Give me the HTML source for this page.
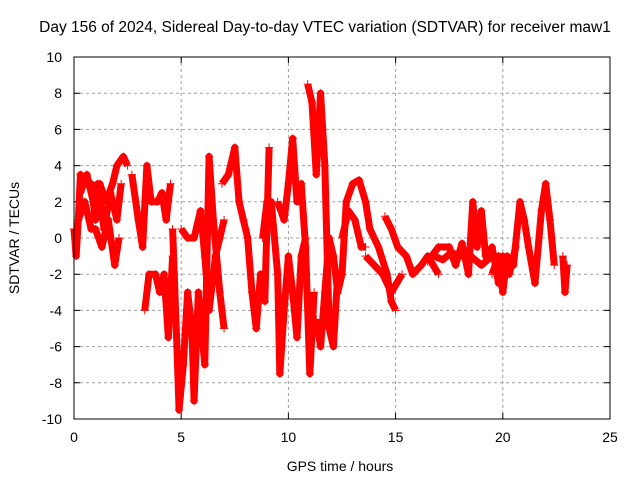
<!DOCTYPE html>
<html><head><meta charset="utf-8"><style>
body{margin:0;background:#fff}
svg{display:block;font-family:"Liberation Sans",sans-serif}
</style></head><body>
<svg id="chart" width="640" height="480">
<text x="325" y="32" font-size="15.5" text-anchor="middle">Day 156 of 2024, Sidereal Day-to-day VTEC variation (SDTVAR) for receiver maw1</text>
<text x="340" y="471" font-size="14" text-anchor="middle">GPS time / hours</text>
<text transform="translate(19,238) rotate(-90)" font-size="14" text-anchor="middle">SDTVAR / TECUs</text>
<g id="grid"></g><g id="marks"></g>
<rect x="74" y="57" width="536" height="362" fill="none" stroke="#000" stroke-width="1"/>
</svg>
<script>
const xTicks=[0,5,10,15,20,25];
const yTicks=[-10,-8,-6,-4,-2,0,2,4,6,8,10];
const trackA=[[0,0.5],[0.1,-1],[0.2,1],[0.3,3.5],[0.5,3],[0.8,3],[1.0,1],[1.2,3],[1.5,2],[1.8,3],[2.0,4],[2.3,4.5],[2.5,4]];
const trackB=[[0.2,1],[0.5,2],[0.8,0.5],[1.0,0.5],[1.3,-0.5],[1.6,1],[1.9,-1.5],[2.1,0]];
const trackC=[[2.7,3.5],[3.0,1],[3.2,-0.5],[3.4,4],[3.6,2],[3.9,2],[4.1,2.5],[4.3,1],[4.5,3]];
const trackD=[[3.3,-4],[3.5,-2],[3.8,-2],[4.0,-3],[4.2,-2],[4.4,-5.5],[4.6,-1]];
const trackE=[[4.6,0.5],[4.8,-6],[4.9,-9.5],[5.1,-7],[5.3,-3],[5.5,-5],[5.6,-9],[5.8,-3],[6.1,-7],[6.3,4.5],[6.5,1],[6.8,-3],[7.0,-5]];
const trackF=[[5.0,0.5],[5.3,0],[5.6,0],[5.9,1.5],[6.1,-1],[6.3,-4],[6.6,-1],[6.8,0],[7.0,1]];
const trackG=[[6.9,3],[7.2,3.5],[7.5,5],[7.7,2],[7.9,1],[8.1,0],[8.3,-3],[8.5,-5],[8.7,-2],[8.9,-3.5],[9.1,5]];
const trackH=[[8.8,0],[9.0,2],[9.2,2],[9.5,-2],[9.6,-7.5],[9.8,-4],[10.0,-1],[10.2,-3],[10.4,-5.5],[10.6,-1],[10.8,0]];
const trackI=[[9.5,2],[9.8,1],[10.0,3],[10.2,5.5],[10.4,2],[10.6,3],[10.8,-0.5],[11.0,-7.5],[11.2,-3]];
const trackJ=[[10.9,8.5],[11.1,7.5],[11.3,3.5],[11.5,8],[11.7,4],[11.9,-5],[12.1,-6],[12.3,-2]];
const trackK=[[11.3,-4.5],[11.5,-6],[11.7,-3],[11.9,0],[12.1,-1],[12.3,-3],[12.5,-2],[12.7,2],[13.0,3],[13.3,3.2],[13.6,2],[13.8,0.5],[14.2,-0.5],[14.6,-2],[14.8,-3.5],[15.0,-4]];
const trackL=[[12.5,0],[12.8,1.5],[13.1,1],[13.4,-0.5],[13.6,-0.5]];
const trackM=[[14.5,1.2],[14.8,0.5],[15.1,-0.5],[15.5,-1],[15.8,-2],[16.2,-1.5],[16.5,-1],[17.0,-2]];
const trackN=[[13.6,-1],[14.0,-1.5],[14.4,-2],[14.8,-3],[15.3,-2]];
const trackO=[[16.5,-1.3],[17.0,-0.5],[17.5,-0.5],[17.8,-1.5],[18.1,-0.3],[18.4,-2],[18.6,2],[18.8,-0.5],[19.0,1.5],[19.2,-1],[19.5,-0.5],[19.8,-2.5],[20.0,-1],[20.3,-2],[20.6,-0.5]];
const trackP=[[19.5,-2],[19.8,-1],[20.0,-3],[20.2,-1],[20.5,-1.5],[20.8,2],[21.0,1],[21.2,-0.5],[21.5,-2.5],[21.8,1.5],[22.0,3],[22.2,1],[22.4,-1.5]];
const trackQ=[[22.8,-1],[22.9,-3],[23.0,-1.5]];
const trackR=[[0.3,2.5],[0.6,3.5],[0.9,2],[1.1,3],[1.4,0.5],[1.7,2.5],[2.0,1],[2.2,3]];
const trackS=[[16.8,-1],[17.2,-1.2],[17.6,-0.8],[18.0,-1],[18.5,-1],[19.0,-1.5],[19.5,-1],[20.0,-1.5],[20.5,-1.2]];
const tracks=[trackA,trackB,trackC,trackD,trackE,trackF,trackG,trackH,trackI,trackJ,trackK,trackL,trackM,trackN,trackO,trackP,trackQ,trackR,trackS];
const X0=74,X1=610,Y0=419,Y1=57;
const xs=t=>X0+(t-0)/25*(X1-X0);
const ys=v=>Y0-(v+10)/20*(Y0-Y1);
const NS='http://www.w3.org/2000/svg';
const grid=document.getElementById('grid'),marks=document.getElementById('marks');
function mk(tag,attrs,parent){const e=document.createElementNS(NS,tag);for(const k in attrs)e.setAttribute(k,attrs[k]);parent.appendChild(e);return e;}
xTicks.forEach(t=>{const x=xs(t);
 if(t>0&&t<25){const l=mk('line',{x1:x,x2:x,y1:Y1,y2:Y0,stroke:'#a0a0a0','stroke-dasharray':'3,3'},grid);
 
 }
 const tk=mk('path',{d:`M${x},${Y0}v-6M${x},${Y1}v6`,stroke:'#000'},grid);
 
 
 const tx=mk('text',{x:x,y:442,'font-size':14,'text-anchor':'middle'},grid);tx.textContent=t;
 
 
});
yTicks.forEach(v=>{const y=ys(v);
 if(v>-10&&v<10){const l=mk('line',{x1:X0,x2:X1,y1:y,y2:y,stroke:'#a0a0a0','stroke-dasharray':'3,3'},grid);
 
 }
 const tk=mk('path',{d:`M${X0},${y}h6M${X1},${y}h-6`,stroke:'#000'},grid);
 
 
 const tx=mk('text',{x:62,y:y+5,'font-size':14,'text-anchor':'end'},grid);tx.textContent=v;
 
 
});
tracks.forEach((tr,i)=>{
 const p=mk('polyline',{points:tr.map(d=>xs(d[0])+','+ys(d[1])).join(' '),fill:'none',stroke:'#ff0000','stroke-width':7,'stroke-linejoin':'round'},marks);
 
 
 tr.forEach(d=>{const x=xs(d[0]),y=ys(d[1]);
  const m=mk('path',{d:`M${x-4},${y}h8M${x},${y-4}v8`,stroke:'#ff0000','stroke-width':1},marks);
  
  
 });
});
</script>
</body></html>
